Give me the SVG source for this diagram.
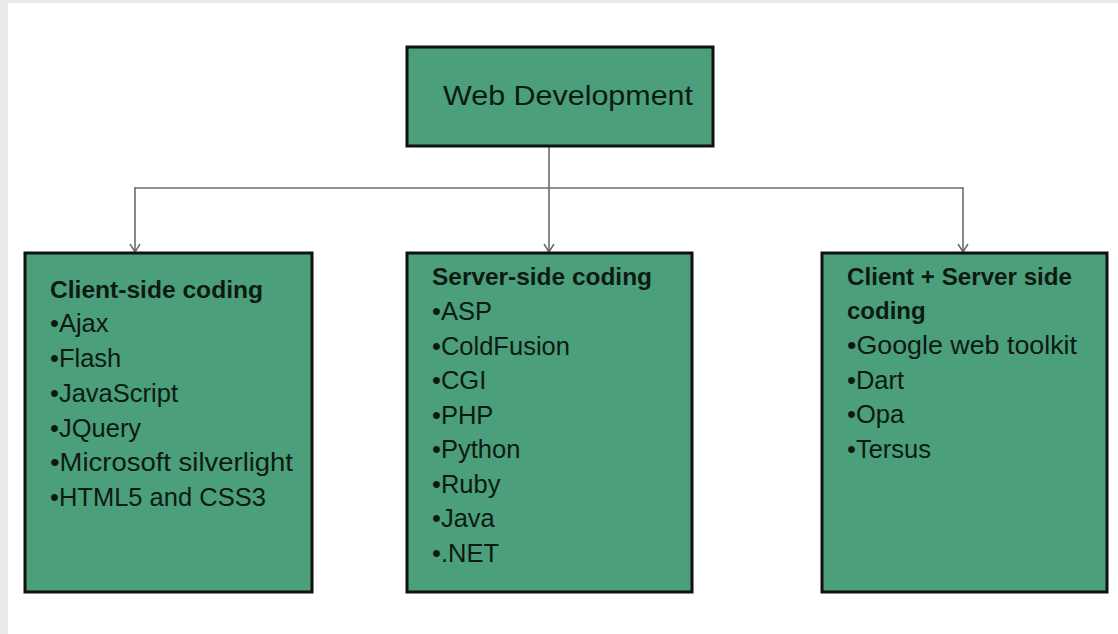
<svg xmlns="http://www.w3.org/2000/svg" width="1118" height="634" viewBox="0 0 1118 634">
<defs>
<style>
.box{fill:#4b9f7b;stroke:#111;stroke-width:3}
.t{font-family:"Liberation Sans",Arial,sans-serif;fill:#0d1a12}
.h{font-size:24px;font-weight:bold}
.i{font-size:25.5px}
.c{fill:none;stroke:#6b6b6b;stroke-width:1.6}
</style>
<marker id="ah" viewBox="0 0 12 12" refX="11" refY="6" markerWidth="12" markerHeight="12" markerUnits="userSpaceOnUse" orient="auto">
<path d="M3,1 L11,6 L3,11" fill="none" stroke="#6b6b6b" stroke-width="1.5"/>
</marker>
</defs>
<rect x="0" y="0" width="1118" height="634" fill="#ebebeb"/>
<rect x="8" y="3" width="1110" height="631" fill="#ffffff"/>
<g id="connectors">
<line class="c" x1="135" y1="188" x2="963" y2="188"/>
<line class="c" x1="549" y1="146" x2="549" y2="252" marker-end="url(#ah)"/>
<path class="c" d="M136,188 L135,188 L135,252" marker-end="url(#ah)"/>
<path class="c" d="M962,188 L963,188 L963,252" marker-end="url(#ah)"/>
</g>
<g id="web-development">
<rect class="box" x="407" y="47" width="306" height="99"/>
<text class="t" x="443" y="105" font-size="28" textLength="250" lengthAdjust="spacingAndGlyphs">Web Development</text>
</g>
<g id="client-side">
<rect class="box" x="25" y="253" width="287" height="339"/>
<text class="t h" x="50" y="298" textLength="213" lengthAdjust="spacingAndGlyphs">Client-side coding</text>
<text class="t i" x="50" y="332">•Ajax</text>
<text class="t i" x="50" y="367">•Flash</text>
<text class="t i" x="50" y="402">•JavaScript</text>
<text class="t i" x="50" y="437">•JQuery</text>
<text class="t i" x="50" y="471" textLength="243" lengthAdjust="spacingAndGlyphs">•Microsoft silverlight</text>
<text class="t i" x="50" y="506">•HTML5 and CSS3</text>
</g>
<g id="server-side">
<rect class="box" x="407" y="253" width="285" height="339"/>
<text class="t h" x="432" y="285" textLength="220" lengthAdjust="spacingAndGlyphs">Server-side coding</text>
<text class="t i" x="432" y="320">•ASP</text>
<text class="t i" x="432" y="355">•ColdFusion</text>
<text class="t i" x="432" y="389">•CGI</text>
<text class="t i" x="432" y="424">•PHP</text>
<text class="t i" x="432" y="458">•Python</text>
<text class="t i" x="432" y="493">•Ruby</text>
<text class="t i" x="432" y="527">•Java</text>
<text class="t i" x="432" y="562">•.NET</text>
</g>
<g id="client-server">
<rect class="box" x="822" y="253" width="285" height="339"/>
<text class="t h" x="847" y="285" textLength="225" lengthAdjust="spacingAndGlyphs">Client + Server side</text>
<text class="t h" x="847" y="319">coding</text>
<text class="t i" x="847" y="354" textLength="230" lengthAdjust="spacingAndGlyphs">•Google web toolkit</text>
<text class="t i" x="847" y="389">•Dart</text>
<text class="t i" x="847" y="423">•Opa</text>
<text class="t i" x="847" y="458">•Tersus</text>
</g>
</svg>
